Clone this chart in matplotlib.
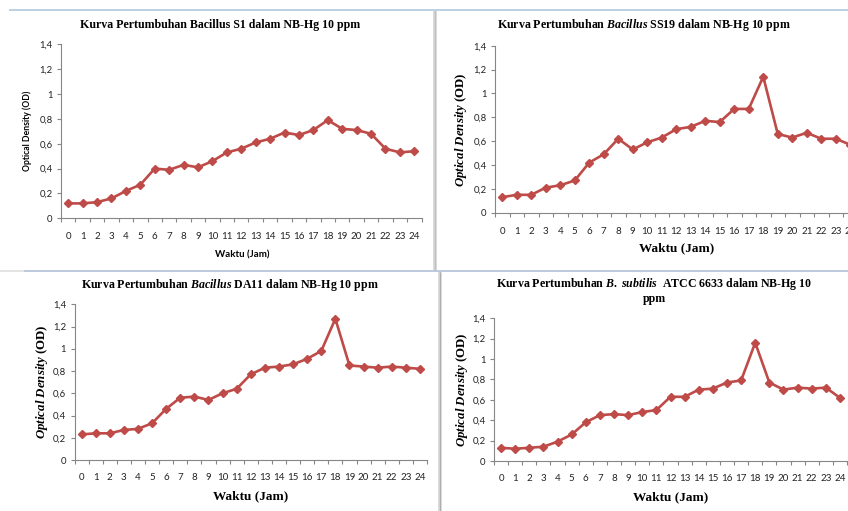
import matplotlib
matplotlib.use("Agg")
import matplotlib.pyplot as plt
from matplotlib.lines import Line2D

plt.rcParams["mathtext.fontset"] = "custom"
plt.rcParams["mathtext.it"] = "Liberation Serif:italic:bold"
plt.rcParams["mathtext.rm"] = "Liberation Serif:bold"

# ---- data -------------------------------------------------------------
hours = list(range(25))
y_ticks = [0, 0.2, 0.4, 0.6, 0.8, 1.0, 1.2, 1.4]
y_tick_labels = ["0", "0,2", "0,4", "0,6", "0,8", "1", "1,2", "1,4"]

od_s1 = [0.12, 0.12, 0.13, 0.16, 0.22, 0.27, 0.40, 0.39, 0.43, 0.41, 0.46, 0.53,
         0.56, 0.61, 0.64, 0.69, 0.67, 0.71, 0.79, 0.72, 0.71, 0.68, 0.56, 0.53, 0.54]
od_ss19 = [0.13, 0.15, 0.15, 0.21, 0.23, 0.27, 0.42, 0.49, 0.62, 0.53, 0.59, 0.63,
           0.70, 0.72, 0.77, 0.76, 0.87, 0.87, 1.14, 0.66, 0.63, 0.67, 0.62, 0.62, 0.57]
od_da11 = [0.23, 0.24, 0.24, 0.27, 0.28, 0.33, 0.46, 0.56, 0.57, 0.54, 0.60, 0.64,
           0.77, 0.83, 0.84, 0.86, 0.91, 0.98, 1.27, 0.85, 0.84, 0.83, 0.84, 0.83, 0.82]
od_atcc = [0.13, 0.12, 0.13, 0.14, 0.19, 0.26, 0.38, 0.45, 0.46, 0.45, 0.48, 0.50,
           0.63, 0.63, 0.70, 0.71, 0.77, 0.79, 1.16, 0.77, 0.70, 0.72, 0.71, 0.72, 0.62]

titles = [
    "Kurva Pertumbuhan Bacillus S1 dalam NB-Hg 10 ppm",
    r"Kurva Pertumbuhan $\mathit{Bacillus}$ SS19 dalam NB-Hg 10 ppm",
    r"Kurva Pertumbuhan $\mathit{Bacillus}$ DA11 dalam NB-Hg 10 ppm",
    "Kurva Pertumbuhan $\\mathit{B.\\ subtilis}$  ATCC 6633 dalam NB-Hg 10\nppm",
]
x_label = "Waktu (Jam)"
y_label_plain = "Optical Density (OD)"
y_label_italic = r"$\mathit{Optical\ Density}$ (OD)"

# ---- figure -----------------------------------------------------------
W, H = 848, 511
fig = plt.figure(figsize=(W / 100, H / 100), dpi=100)
fig.patch.set_facecolor("white")

LINE = "#BE4B48"
AXIS = "#868686"
TICKFONT = "Lato"
SERIF = "Liberation Serif"


def fx(px):
    return px / W


def fy(py):
    return 1 - py / H


def panel(values, x0, x1, y_zero, y_top, tick_pad):
    ax = fig.add_axes([fx(x0), fy(y_zero), fx(x1) - fx(x0), fy(y_top) - fy(y_zero)])
    ax.plot(hours, values, color=LINE, lw=1.9, marker="D", ms=4.4,
            markeredgecolor=LINE, markerfacecolor=LINE, clip_on=False, zorder=3)
    ax.set_xlim(-0.5, 24.5)
    ax.set_ylim(0, 1.4)
    for s in ("top", "right"):
        ax.spines[s].set_visible(False)
    for s in ("left", "bottom"):
        ax.spines[s].set_color(AXIS)
        ax.spines[s].set_linewidth(0.8)
    ax.set_yticks(y_ticks)
    ax.set_yticklabels(y_tick_labels, fontfamily=TICKFONT, fontsize=6.8, color="#222222")
    ax.tick_params(axis="y", length=3, width=0.8, color=AXIS, pad=3)
    ax.set_xticks(hours)
    ax.set_xticklabels([str(h) for h in hours], fontfamily=TICKFONT, fontsize=7,
                       color="#222222")
    ax.tick_params(axis="x", which="major", length=0, pad=tick_pad)
    ax.set_xticks([h - 0.5 for h in hours] + [24.5], minor=True)
    ax.tick_params(axis="x", which="minor", length=3, width=0.8, color=AXIS)
    ax.patch.set_alpha(0)
    return ax


panel(od_s1, 61, 421.5, 218.3, 44.3, 10)
panel(od_ss19, 495, 857.5, 212.7, 45.7, 10.5)
panel(od_da11, 74.5, 427, 460, 304.3, 9.5)
panel(od_atcc, 494, 847, 461, 318.3, 9.5)

# titles
TSIZE = 8.6
fig.text(fx(220), fy(25), titles[0], fontfamily=SERIF, fontweight="bold",
         fontsize=TSIZE, ha="center", va="center")
fig.text(fx(644), fy(25), titles[1], fontfamily=SERIF, fontweight="bold",
         fontsize=TSIZE, ha="center", va="center")
fig.text(fx(230), fy(285), titles[2], fontfamily=SERIF, fontweight="bold",
         fontsize=TSIZE, ha="center", va="center")
fig.text(fx(654), fy(290.5), titles[3], fontfamily=SERIF, fontweight="bold",
         fontsize=TSIZE, ha="center", va="center", linespacing=1.1)

# axis labels
fig.text(fx(27), fy(131), y_label_plain, fontfamily=TICKFONT, fontweight="bold",
         fontsize=6.2, rotation=90, ha="center", va="center")
fig.text(fx(242), fy(255), x_label, fontfamily=TICKFONT, fontweight="bold",
         fontsize=7, ha="center", va="center")

fig.text(fx(461), fy(130), y_label_italic, fontfamily=SERIF, fontweight="bold",
         fontsize=9.3, rotation=90, ha="center", va="center")
fig.text(fx(677), fy(248.5), x_label, fontfamily=SERIF, fontweight="bold",
         fontsize=9.5, ha="center", va="center")

fig.text(fx(42), fy(382), y_label_italic, fontfamily=SERIF, fontweight="bold",
         fontsize=9.3, rotation=90, ha="center", va="center")
fig.text(fx(251), fy(496), x_label, fontfamily=SERIF, fontweight="bold",
         fontsize=9.5, ha="center", va="center")

fig.text(fx(462), fy(390), y_label_italic, fontfamily=SERIF, fontweight="bold",
         fontsize=9.3, rotation=90, ha="center", va="center")
fig.text(fx(671), fy(497), x_label, fontfamily=SERIF, fontweight="bold",
         fontsize=9.5, ha="center", va="center")

# frame separators between the four charts
def seg(xs, ys, color, lw):
    fig.add_artist(Line2D([fx(x) for x in xs], [fy(y) for y in ys],
                          transform=fig.transFigure, color=color, lw=lw,
                          solid_capstyle="butt"))

seg([9, 848], [10.5, 10.5], "#a9c3de", 1.1)
seg([435, 435], [10.5, 271], "#d2d2d2", 2.6)
seg([435, 435], [10.5, 271], "#bcbcbc", 0.6)
seg([0, 24], [271, 271], "#dcdcdc", 1.1)
seg([24, 848], [271, 271], "#b6c6da", 1.3)
seg([439.5, 439.5], [271.5, 511], "#d2d2d2", 2.6)
seg([439.5, 439.5], [271.5, 511], "#a8a8a8", 0.6)

fig.savefig("out.png", dpi=100, facecolor="white")
